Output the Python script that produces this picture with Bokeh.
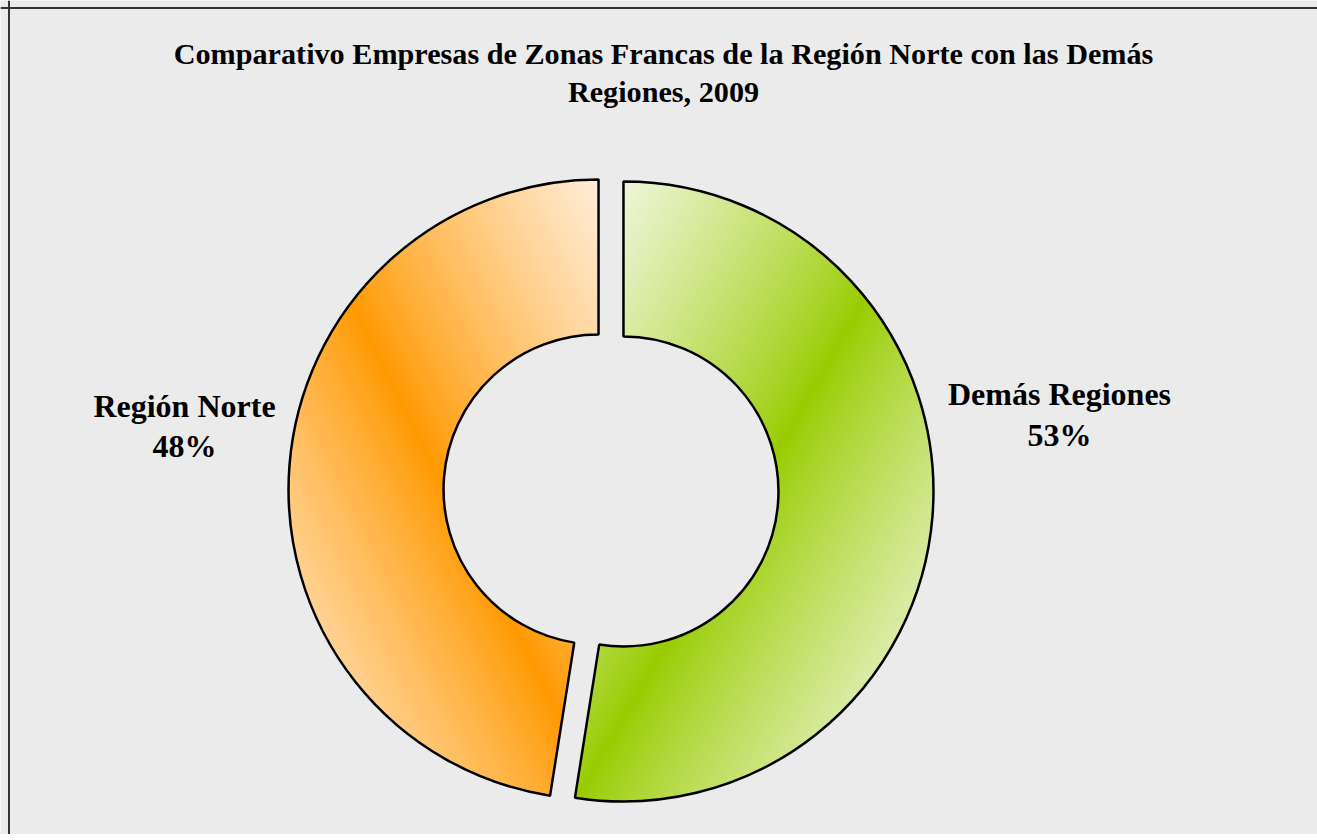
import numpy as np
from bokeh.plotting import figure
from bokeh.models import Range1d, Span
from bokeh.core.properties import value
from bokeh.embed import file_html
from bokeh.resources import INLINE

# ---- data ----
categories = ["Región Norte", "Demás Regiones"]
shares = [47.5, 52.5]            # percent
title_lines = ["Comparativo Empresas de Zonas Francas de la Región Norte con las Demás",
               "Regiones, 2009"]

# ---- styling / layout (positions given in screen pixels from the top-left) ----
W, H = 1317, 834
BG = "#ebebeb"
def sy(y_screen):
    return H - y_screen
CX, CY = 610.5, sy(490.0)        # donut centre (data units == pixels)
R_OUT, R_IN = 310.0, 155.0
EXPLODE = 12.5
base_cols = {"Región Norte": (255, 153, 0), "Demás Regiones": (153, 204, 0)}
end_cols = {"Región Norte": (255, 238, 218), "Demás Regiones": (250, 252, 246)}
grad_dir = {"Región Norte": -1, "Demás Regiones": 1}   # -1: top-right->bottom-left, 1: top-left->bottom-right
label_pos = {"Región Norte": (184, sy(405), sy(445)), "Demás Regiones": (1059, sy(393), sy(434))}

p = figure(width=W, height=H, output_backend="svg", toolbar_location=None,
           x_range=Range1d(0, W), y_range=Range1d(0, H), min_border=0)
p.axis.visible = False
p.grid.visible = False
p.outline_line_color = None
p.background_fill_color = BG
p.border_fill_color = BG

# slices go clockwise from 12 o'clock: Demás Regiones first, then Región Norte
order = ["Demás Regiones", "Región Norte"]
total = float(sum(shares))
frac = {c: s / total for c, s in zip(categories, shares)}

starts, ends, xs, ys = [], [], [], []
a = np.pi / 2
for c in order:
    span = 2 * np.pi * frac[c]
    a0, a1 = a, a - span
    mid = (a0 + a1) / 2
    starts.append(a0)
    ends.append(a1)
    xs.append(CX + EXPLODE * np.cos(mid))
    ys.append(CY + EXPLODE * np.sin(mid))
    a = a1

# gradient fill as an RGBA image masked to each wedge
N = 700
x0, y0 = CX - N / 2, CY - N / 2
gx = x0 + 0.5 + np.arange(N)
gy = y0 + 0.5 + np.arange(N)
X, Y = np.meshgrid(gx, gy)
img = np.zeros((N, N, 4), dtype=np.uint8)
for c, a0, a1, ox, oy in zip(order, starts, ends, xs, ys):
    dx, dy = X - ox, Y - oy
    rho = np.hypot(dx, dy)
    ang = np.arctan2(dy, dx)
    within = np.mod(a0 - ang, 2 * np.pi) <= (a0 - a1)
    mask = within & (rho >= R_IN) & (rho <= R_OUT)
    bx0, bx1 = X[mask].min(), X[mask].max()
    by0, by1 = Y[mask].min(), Y[mask].max()
    u = (X - (bx0 + bx1) / 2) / ((bx1 - bx0) / 2)
    v = ((by0 + by1) / 2 - Y) / ((by1 - by0) / 2)
    t = np.clip(np.abs((grad_dir[c] * u + v) / 2), 0, 1) ** 0.85
    b = np.array(base_cols[c], float)
    e = np.array(end_cols[c], float)
    col = b[None, None, :] + (e - b)[None, None, :] * t[..., None]
    img[mask, :3] = col[mask].astype(np.uint8)
    img[mask, 3] = 255
p.image_rgba(image=[img.view(dtype=np.uint32).reshape((N, N))], x=x0, y=y0, dw=N, dh=N)

p.annular_wedge(x=xs, y=ys, inner_radius=R_IN, outer_radius=R_OUT,
                start_angle=starts, end_angle=ends, direction="clock",
                fill_alpha=0, line_color="black", line_width=2.5)

# labels
for c in categories:
    lx, ly1, ly2 = label_pos[c]
    pct = f"{int(frac[c] * 100 + 0.5)}%"
    p.text(x=[lx, lx], y=[ly1, ly2], text=[c, pct], text_align="center",
           text_baseline="alphabetic", text_font=value("Liberation Serif"),
           text_font_style="bold", text_font_size="32px", text_color="black")

# title
p.text(x=[663, 663], y=[sy(53), sy(91.7)], text=title_lines, text_align="center",
       text_baseline="alphabetic", text_font=value("Liberation Serif"),
       text_font_style="bold", text_font_size="30.2px", text_color="black")

# chart border (only left & top edges are visible in the reference)
p.add_layout(Span(location=8.5, dimension="height", line_color="#333333", line_width=2))
p.add_layout(Span(location=sy(7.5), dimension="width", line_color="#333333", line_width=2))

open("out.html", "w").write(file_html(p, INLINE))
